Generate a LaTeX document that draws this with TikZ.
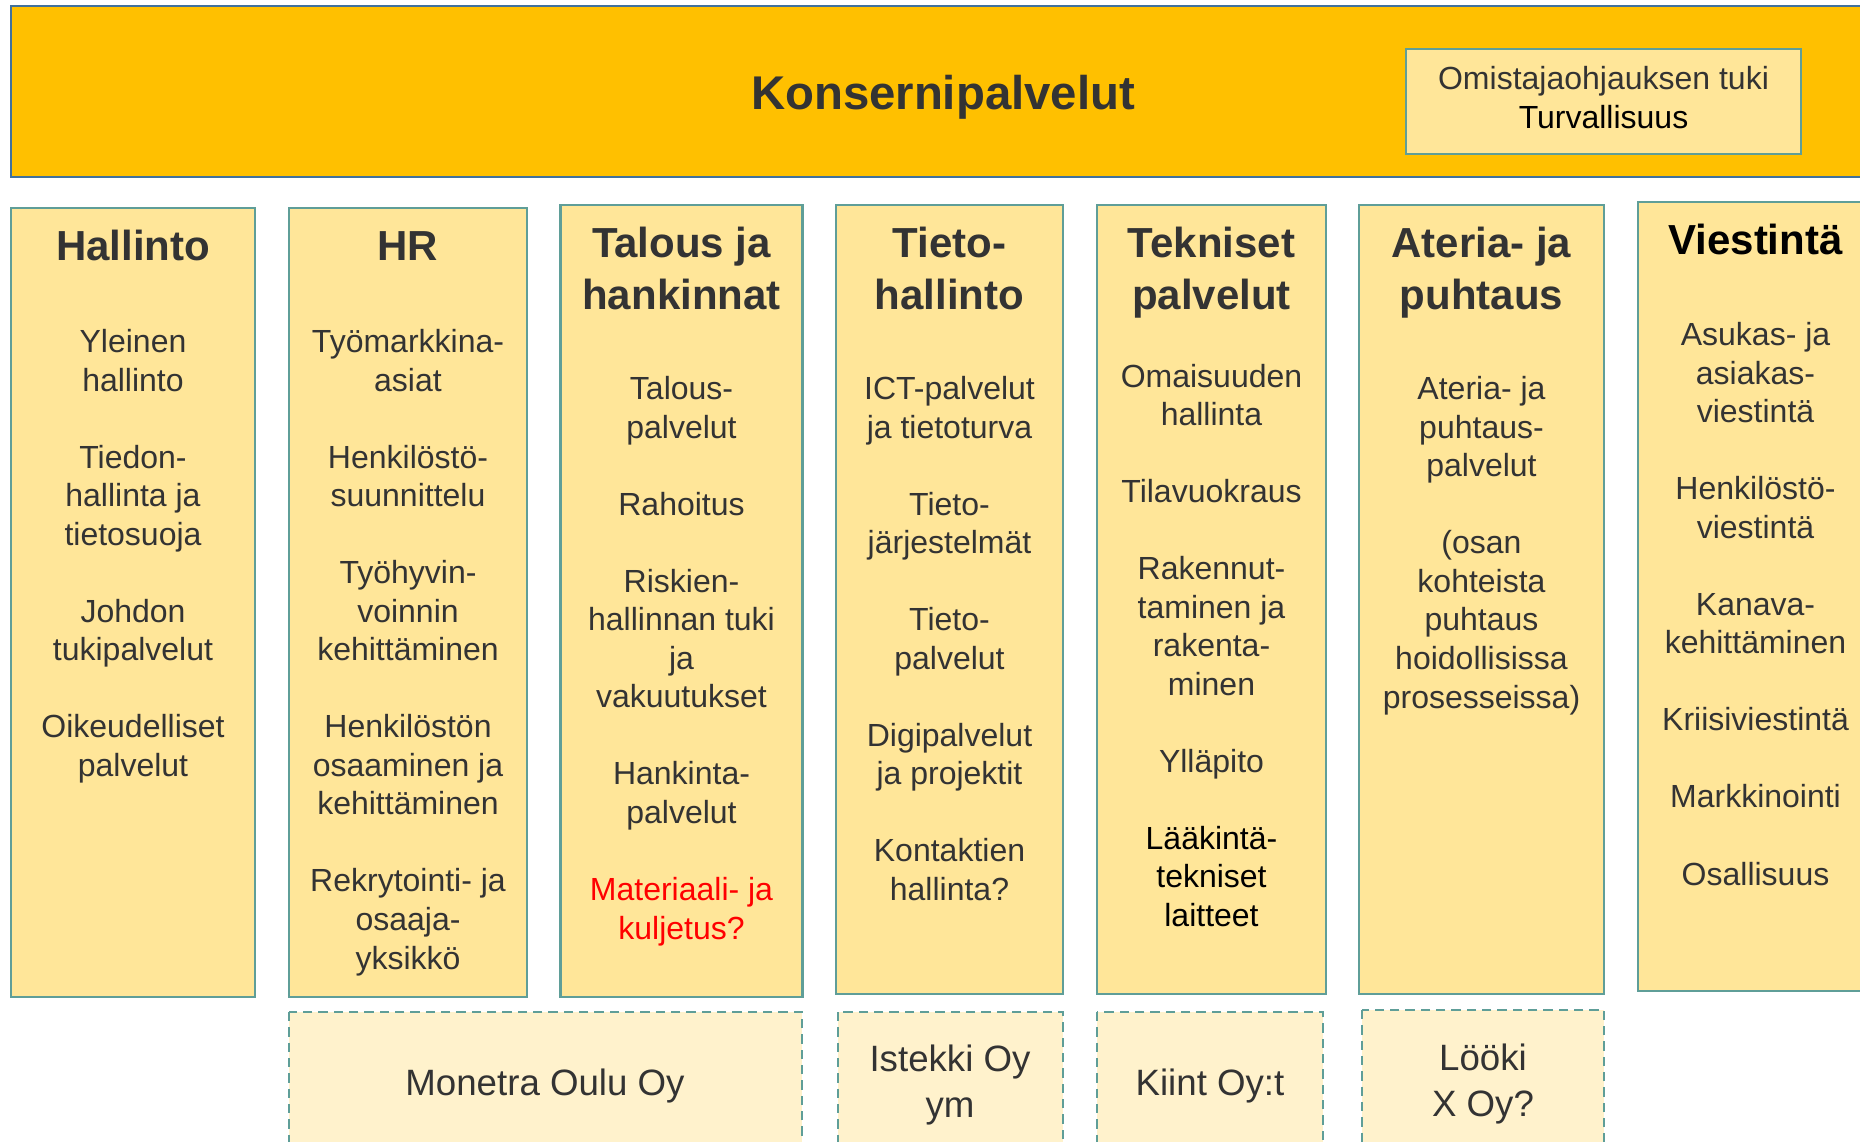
\documentclass[tikz,border=0pt]{standalone}
\usepackage{fontspec}
\setmainfont{Liberation Sans}
\definecolor{bannerfill}{HTML}{FFC000}
\definecolor{bannerline}{HTML}{41719C}
\definecolor{colfill}{HTML}{FFE699}
\definecolor{colline}{HTML}{5F9E98}
\definecolor{subfill}{HTML}{FFF2CC}
\definecolor{txt}{HTML}{333333}
\definecolor{redtxt}{HTML}{FF0000}
\begin{document}
\begin{tikzpicture}[x=0.75pt,y=-0.75pt,
  banner/.style={fill=bannerfill,draw=bannerline,line width=2pt},
  colbox/.style={fill=colfill,draw=colline,line width=2pt},
  subbox/.style={fill=subfill,draw=colline,line width=1.8pt,dash pattern=on 7pt off 4.5pt},
  body/.style={font=\fontsize{24}{28.9}\selectfont,align=center,text=txt,inner sep=0pt,anchor=base},
  ttl/.style={font=\bfseries\fontsize{31.5}{38.3}\selectfont,align=center,text=txt,inner sep=0pt,anchor=base},
  subtxt/.style={font=\fontsize{27.5}{33.8}\selectfont,align=center,text=txt,inner sep=0pt,anchor=base}]
\useasboundingbox (0,0) rectangle (1860,1142);
\clip (0,0) rectangle (1860,1142);
% banner
\draw[banner] (11,6) rectangle (1880,177);
\node[font=\bfseries\fontsize{35.5}{42}\selectfont,text=txt,inner sep=0pt,anchor=base] (kp) at (943,109) {Konsernipalvelut};
\draw[colbox] (1406,49) rectangle (1801,154);
\node[body] (om) at (1603.5,128.5) {Omistajaohjauksen tuki\\\textcolor{black}{Turvallisuus}};
% columns
\draw[colbox] (11,208) rectangle (255,997);
\draw[colbox] (289,208) rectangle (527,997);
\draw[colbox] (560.5,205) rectangle (802.5,997);
\draw[colbox] (836,205) rectangle (1063,994);
\draw[colbox] (1097,205) rectangle (1326,994);
\draw[colbox] (1359,205) rectangle (1604,994);
\draw[colbox] (1638,202) rectangle (1880,991);
% column 1
\node[ttl] (t1) at (133,260.5) {Hallinto};
\node[body] (b1) at (133,776.5) {Yleinen\\hallinto\\[28.9pt]Tiedon-\\hallinta ja\\tietosuoja\\[28.9pt]Johdon\\tukipalvelut\\[28.9pt]Oikeudelliset\\palvelut};
% column 2
\node[ttl] (t2) at (408,260.5) {HR};
\node[body] (b2) at (408,969) {Työmarkkina-\\asiat\\[28.9pt]Henkilöstö-\\suunnittelu\\[28.9pt]Työhyvin-\\voinnin\\kehittäminen\\[28.9pt]Henkilöstön\\osaaminen ja\\kehittäminen\\[28.9pt]Rekrytointi- ja\\osaaja-\\yksikkö};
% column 3
\node[ttl] (t3) at (681.5,309) {Talous ja\\hankinnat};
\node[body] (b3) at (681.5,939) {Talous-\\palvelut\\[28.9pt]Rahoitus\\[28.9pt]Riskien-\\hallinnan tuki\\ja\\vakuutukset\\[28.9pt]Hankinta-\\palvelut\\[28.9pt]\textcolor{redtxt}{Materiaali- ja}\\\textcolor{redtxt}{kuljetus?}};
% column 4
\node[ttl] (t4) at (949.5,309) {Tieto-\\hallinto};
\node[body] (b4) at (949.5,900.5) {ICT-palvelut\\ja tietoturva\\[28.9pt]Tieto-\\järjestelmät\\[28.9pt]Tieto-\\palvelut\\[28.9pt]Digipalvelut\\ja projektit\\[28.9pt]Kontaktien\\hallinta?};
% column 5
\node[ttl] (t5) at (1211.5,309) {Tekniset\\palvelut};
\node[body] (b5) at (1211.5,926.5) {Omaisuuden\\hallinta\\[28.9pt]Tilavuokraus\\[28.9pt]Rakennut-\\taminen ja\\rakenta-\\minen\\[28.9pt]Ylläpito\\[28.9pt]\textcolor{black}{Lääkintä-}\\\textcolor{black}{tekniset}\\\textcolor{black}{laitteet}};
% column 6
\node[ttl] (t6) at (1481.5,309) {Ateria- ja\\puhtaus};
\node[body] (b6) at (1481.5,708) {Ateria- ja\\puhtaus-\\palvelut\\[28.9pt](osan\\kohteista\\puhtaus\\hoidollisissa\\prosesseissa)};
% column 7
\node[ttl,text=black] (t7) at (1755.5,254.6) {Viestintä};
\node[body] (b7) at (1755.5,885) {Asukas- ja\\asiakas-\\viestintä\\[28.9pt]Henkilöstö-\\viestintä\\[28.9pt]Kanava-\\kehittäminen\\[28.9pt]Kriisiviestintä\\[28.9pt]Markkinointi\\[28.9pt]Osallisuus};
% companies
\draw[subbox] (289,1012) rectangle (802,1170);
\draw[subbox] (838,1012) rectangle (1063,1170);
\draw[subbox] (1097,1012) rectangle (1323,1170);
\draw[subbox] (1362,1010) rectangle (1604,1170);
\node[subtxt] (s1) at (545,1095) {Monetra Oulu Oy};
\node[subtxt] (s2) at (950,1117) {Istekki Oy\\ym};
\node[subtxt] (s3) at (1210,1095) {Kiint Oy:t};
\node[subtxt] (s4) at (1483,1116) {Lööki\\X Oy?};
\end{tikzpicture}
\end{document}
